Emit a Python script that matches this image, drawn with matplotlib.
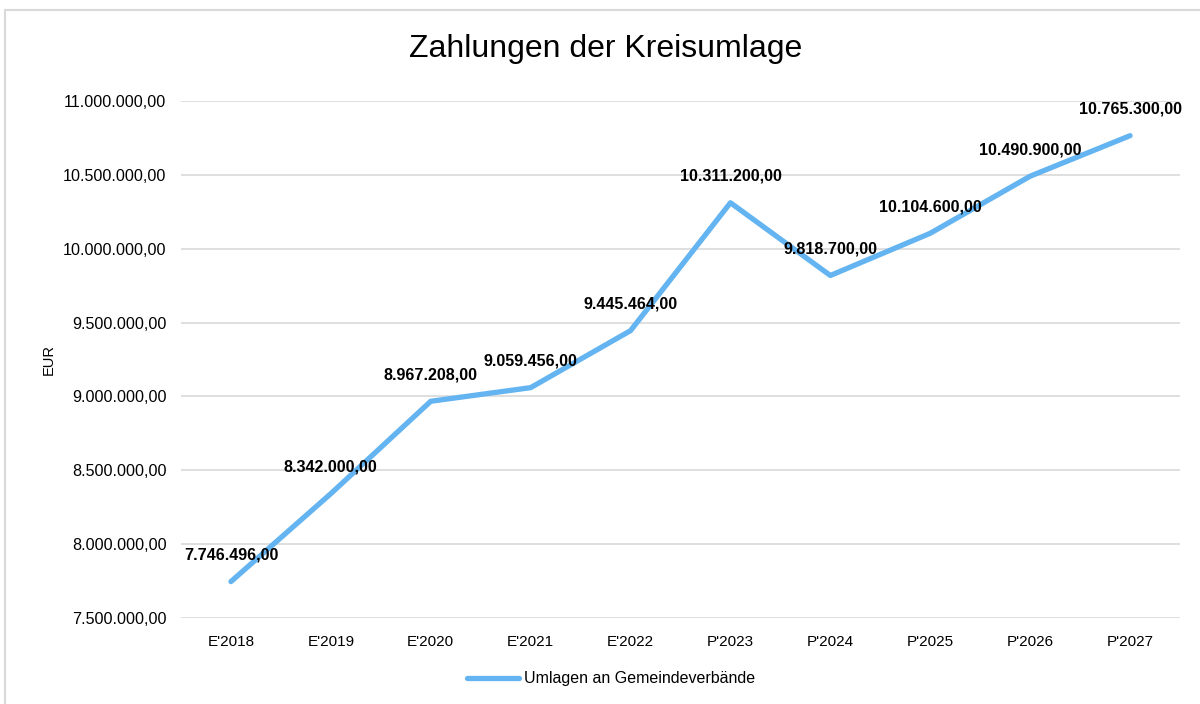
import matplotlib.pyplot as plt
from matplotlib.patches import Rectangle
from matplotlib.ticker import FuncFormatter

plt.rcParams['font.family'] = ['Liberation Sans', 'DejaVu Sans']

years = ["E'2018", "E'2019", "E'2020", "E'2021", "E'2022",
         "P'2023", "P'2024", "P'2025", "P'2026", "P'2027"]
umlagen = [7746496.00, 8342000.00, 8967208.00, 9059456.00, 9445464.00,
           10311200.00, 9818700.00, 10104600.00, 10490900.00, 10765300.00]
series_name = 'Umlagen an Gemeindeverbände'

line_c = '#63b4f1'
grid_c = '#d9d9d9'


def de_fmt(v, pos=None):
    s = f'{v:,.2f}'
    return s.replace(',', 'X').replace('.', ',').replace('X', '.')


fig = plt.figure(figsize=(12, 7.04), dpi=100, facecolor='white')
ax = fig.add_axes([181/1200, 86/704, 999/1200, 517/704])

# outer chart border
fig.patches.append(Rectangle((5/1200, -0.01), 1.2, 0.01 + 694/704,
                             transform=fig.transFigure, fill=False,
                             edgecolor='#d9d9d9', linewidth=1.5))

x = list(range(len(years)))
ax.plot(x, umlagen, color=line_c, lw=3.8, solid_capstyle='round',
        solid_joinstyle='round', label=series_name, zorder=3)

for xi, v in zip(x, umlagen):
    ax.annotate(de_fmt(v), (xi, v), xytext=(0, 19), textcoords='offset points',
                ha='center', va='center', fontsize=11.6, fontweight='bold',
                color='black', zorder=4)

ax.set_xlim(-0.5, len(years) - 0.5)
ax.set_ylim(7500000, 11000000)
ax.set_yticks([7500000 + 500000*i for i in range(8)])
ax.yaxis.set_major_formatter(FuncFormatter(de_fmt))
ax.set_xticks(x)
ax.set_xticklabels(years)
ax.tick_params(axis='x', length=0, labelsize=11, colors='black', pad=12)
ax.tick_params(axis='y', length=0, labelsize=11.6, colors='black', pad=10.5)
ax.grid(axis='y', color=grid_c, lw=1.2)
ax.set_axisbelow(True)
for s in ax.spines.values():
    s.set_visible(False)

ax.set_ylabel('EUR', fontsize=10.5, labelpad=5)
fig.text(606/1200, 1 - 49/704, 'Zahlungen der Kreisumlage', ha='center',
         va='center', fontsize=23)

fig.legend(loc='center', bbox_to_anchor=(611/1200, 1 - 679/704), frameon=False,
           fontsize=11.5, handlelength=3.3, handletextpad=0.3)

fig.savefig('out.png', dpi=100, facecolor='white')
